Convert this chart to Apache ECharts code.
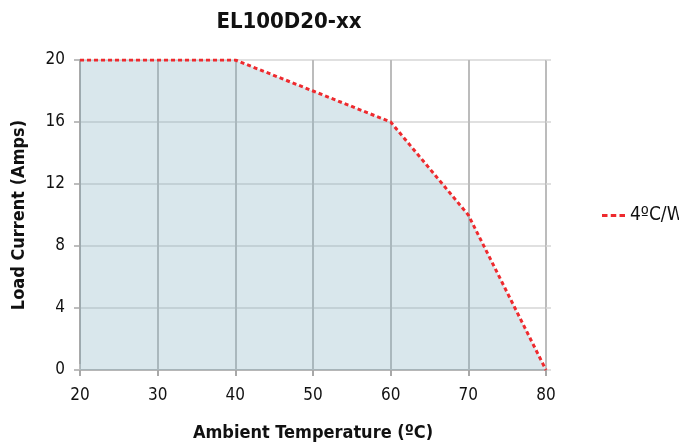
<!DOCTYPE html>
<html><head><meta charset="utf-8">
<script src="https://cdn.jsdelivr.net/npm/echarts@6/dist/echarts.min.js"></script>
<style>html,body{margin:0;padding:0;background:#fff}#c{width:679px;height:444px}</style>
</head><body><div id="c"></div>
<script>
const temps = [20, 30, 40, 50, 60, 70, 80];
const current = [20, 20, 20, 18, 16, 10, 0];
const seriesName = '4ºC/W';
const titleText = 'EL100D20-xx';
const xName = 'Ambient Temperature (ºC)';
const yName = 'Load Current (Amps)';

const F = '"DejaVu Sans Condensed", "Liberation Sans Narrow", sans-serif';
const chart = echarts.init(document.getElementById('c'));
chart.setOption({
  animation: false,
  backgroundColor: '#fff',
  title: { text: titleText, left: 284, top: 6, textAlign: 'center',
    textStyle: { fontFamily: F, fontWeight: 'bold', fontSize: 22, color: '#111' } },
  grid: { left: 80, right: 133, top: 60, bottom: 74, containLabel: false, outerBoundsMode: 'none' },
  legend: { data: [seriesName], left: 597, top: 201, itemWidth: 23, itemHeight: 3, itemGap: 4,
    icon: 'path://M0,0h5.5v3h-5.5z M8.75,0h5.5v3h-5.5z M17.5,0h5.5v3h-5.5z',
    itemStyle: { color: '#ee2a2e' },
    textStyle: { fontFamily: F, fontSize: 19, color: '#111' } },
  xAxis: [{
    type: 'value', min: 20, max: 80, interval: 10,
    name: xName, nameLocation: 'middle', nameGap: 54,
    nameTextStyle: { fontFamily: F, fontWeight: 'bold', fontSize: 18, color: '#111' },
    axisLine: { lineStyle: { color: '#a8a8a8', width: 1.5 } },
    axisTick: { show: true, length: 6, lineStyle: { color: '#a8a8a8', width: 2 } },
    axisLabel: { fontFamily: F, fontSize: 17, color: '#111', margin: 17 },
    splitLine: { show: true, lineStyle: { color: '#bcbcbc', width: 2 } }
  }, {
    type: 'value', min: 20, max: 80, interval: 10, position: 'top',
    axisLine: { show: false }, axisLabel: { show: false },
    axisTick: { show: true, length: 6, lineStyle: { color: '#bcbcbc', width: 2 } },
    splitLine: { show: false }
  }],
  yAxis: [{
    type: 'value', min: 0, max: 20, interval: 4,
    name: yName, nameLocation: 'middle', nameGap: 52, nameRotate: 90,
    nameTextStyle: { fontFamily: F, fontWeight: 'bold', fontSize: 18, color: '#111' },
    axisLine: { show: true, lineStyle: { color: '#a8a8a8', width: 2 } },
    axisTick: { show: true, length: 6, lineStyle: { color: '#a8a8a8', width: 1.5 } },
    axisLabel: { fontFamily: F, fontSize: 17, color: '#111', margin: 15 },
    splitLine: { show: true, lineStyle: { color: '#d6d6d6', width: 1.5 } }
  }, {
    type: 'value', min: 0, max: 20, interval: 4, position: 'right',
    axisLine: { show: false }, axisLabel: { show: false },
    axisTick: { show: true, length: 5, lineStyle: { color: '#d6d6d6', width: 1.5 } },
    splitLine: { show: false }
  }],
  series: [{
    name: seriesName, type: 'line', xAxisIndex: 0, yAxisIndex: 0,
    data: temps.map((t, i) => [t, current[i]]),
    showSymbol: false, symbol: 'none',
    lineStyle: { color: '#ee2a2e', width: 3, type: [4, 3] },
    itemStyle: { color: '#ee2a2e' },
    areaStyle: { color: 'rgba(128,175,191,0.3)', opacity: 1 },
    z: 3
  }]
});
</script></body></html>
